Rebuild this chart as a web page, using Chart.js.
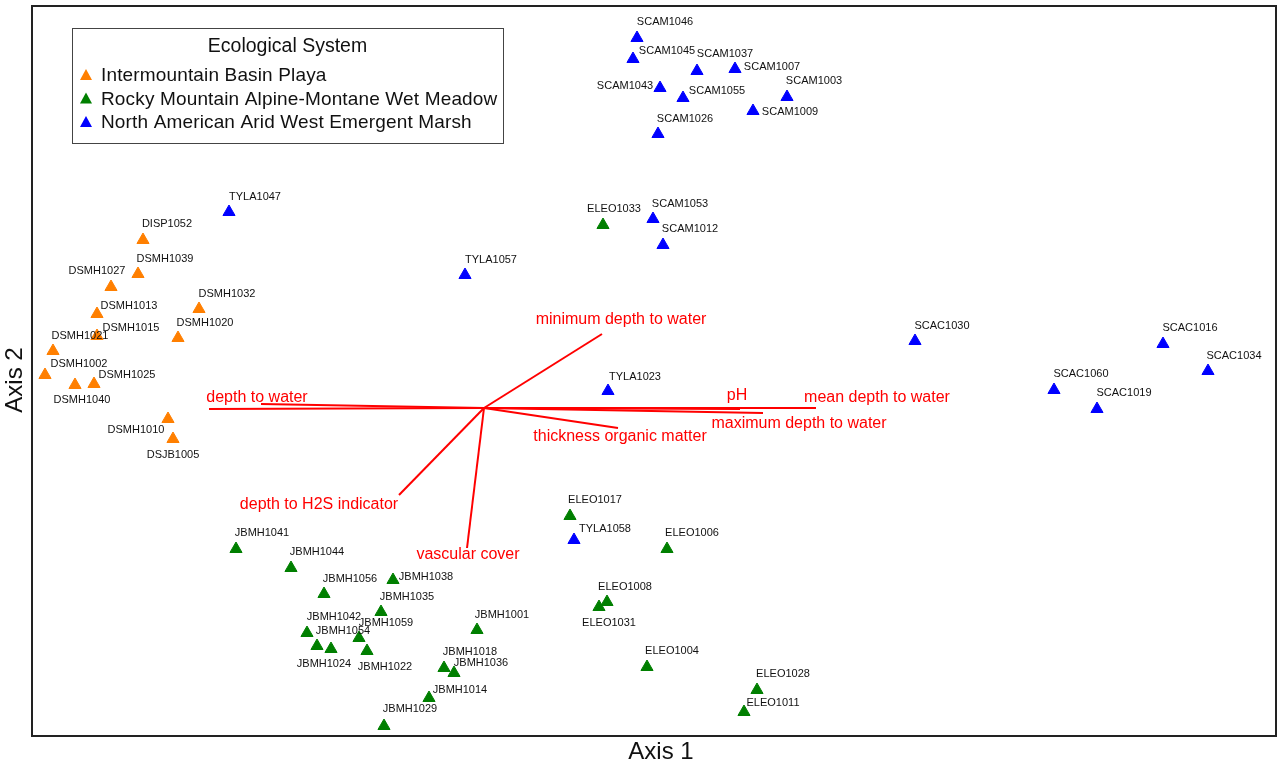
<!DOCTYPE html>
<html>
<head>
<meta charset="utf-8">
<script src="https://cdn.jsdelivr.net/npm/chart.js@4.4.1/dist/chart.umd.min.js"></script>
<style>
  body { margin: 0; background: #fff; }
  canvas { display: block; }
</style>
</head>
<body>
<canvas id="ordChart" width="1278" height="765"></canvas>
<script>
// site scores (Axis 1, Axis 2) per ecological system
const playaNames = ['DISP1052','DSMH1039','DSMH1027','DSMH1013','DSMH1015','DSMH1021','DSMH1002','DSMH1040','DSMH1025','DSMH1032','DSMH1020','DSMH1010','DSJB1005'];
const playaX = [-3.41,-3.46,-3.73,-3.87,-3.87,-4.31,-4.39,-4.09,-3.90,-2.85,-3.06,-3.16,-3.11];
const playaY = [1.68,1.34,1.21,0.94,0.72,0.57,0.33,0.23,0.24,0.99,0.70,-0.11,-0.31];

const meadowNames = ['ELEO1033','ELEO1017','ELEO1006','ELEO1008','ELEO1031','ELEO1004','ELEO1028','ELEO1011','JBMH1041','JBMH1044','JBMH1056','JBMH1038','JBMH1035','JBMH1042','JBMH1054','JBMH1059','JBMH1024','JBMH1022','JBMH1001','JBMH1018','JBMH1036','JBMH1014','JBMH1029'];
const meadowX = [1.19,0.86,1.83,1.23,1.15,1.63,2.73,2.60,-2.48,-1.93,-1.60,-0.91,-1.03,-1.77,-1.67,-1.25,-1.53,-1.17,-0.07,-0.40,-0.30,-0.55,-1.00];
const meadowY = [1.83,-1.08,-1.41,-1.94,-1.99,-2.59,-2.82,-3.04,-1.41,-1.60,-1.86,-1.72,-2.04,-2.25,-2.38,-2.30,-2.41,-2.43,-2.22,-2.60,-2.65,-2.90,-3.18];

const marshNames = ['TYLA1047','TYLA1057','TYLA1023','TYLA1058','SCAM1046','SCAM1045','SCAM1037','SCAM1007','SCAM1043','SCAM1055','SCAM1003','SCAM1009','SCAM1026','SCAM1053','SCAM1012','SCAC1030','SCAC1016','SCAC1034','SCAC1060','SCAC1019'];
const marshX = [-2.55,-0.19,1.24,0.90,1.53,1.49,2.13,2.51,1.76,1.99,3.03,2.69,1.74,1.69,1.79,4.31,6.79,7.24,5.70,6.13];
const marshY = [1.96,1.33,0.17,-1.32,3.70,3.49,3.37,3.39,3.20,3.10,3.11,2.97,2.74,1.89,1.63,0.67,0.64,0.37,0.18,-0.01];

// environmental vectors (arrow tips, origin at 0,0)
const vecNames = ['depth to water','','minimum depth to water','pH','mean depth to water','maximum depth to water','thickness organic matter','depth to H2S indicator','vascular cover'];
const vecX = [-2.75,-2.23,1.18,2.56,3.32,2.79,1.34,-0.85,-0.17];
const vecY = [-0.01,0.04,0.74,-0.01,0.00,-0.05,-0.20,-0.87,-1.40];

// label placement (pixel offsets from the point)
const playaOff = [[24,-16],[27,-15],[-14,-16],[32,-8],[34,-8],[27,-15],[34,-11],[7,15],[33,-9],[28,-15],[27,-15],[-32,11],[0,16]];
const meadowOff = [[11,-16],[25,-16],[25,-16],[18,-15],[10,16],[25,-16],[26,-16],[29,-9],[26,-16],[26,-16],[26,-15],[33,-3],[26,-15],[27,-16],[26,-15],[27,-15],[-7,15],[18,16],[25,-15],[26,-16],[27,-10],[31,-8],[26,-17]];
const marshOff = [[26,-15],[26,-15],[27,-14],[31,-11],[28,-16],[34,-8],[28,-17],[37,-2],[-35,-2],[34,-7],[27,-16],[37,1],[27,-15],[27,-15],[27,-16],[27,-15],[27,-16],[26,-15],[27,-16],[27,-16]];
const vecOff = [[48,-11],[0,0],[19,-14],[-3,-13],[61,-10],[36,11],[2,9],[-80,10],[1,7]];

function pts(xs, ys) {
  return xs.map((x, i) => ({ x: x, y: ys[i] }));
}

const groups = [
  { label: 'Intermountain Basin Playa', color: '#FF7F00', names: playaNames, xs: playaX, ys: playaY, off: playaOff },
  { label: 'Rocky Mountain Alpine-Montane Wet Meadow', color: '#007F00', names: meadowNames, xs: meadowX, ys: meadowY, off: meadowOff },
  { label: 'North American Arid West Emergent Marsh', color: '#0000FF', names: marshNames, xs: marshX, ys: marshY, off: marshOff }
];

const datasets = [];
vecX.forEach((vx, i) => {
  datasets.push({
    label: 'vec' + i,
    data: [{ x: 0, y: 0 }, { x: vx, y: vecY[i] }],
    showLine: true,
    borderColor: '#FF0000',
    borderWidth: 2,
    pointRadius: 0
  });
});
groups.forEach(g => {
  datasets.push({
    label: g.label,
    data: pts(g.xs, g.ys),
    pointStyle: 'triangle',
    pointRadius: 7,
    pointBackgroundColor: g.color,
    pointBorderColor: g.color,
    pointBorderWidth: 1,
    showLine: false
  });
});

const overlay = {
  id: 'overlay',
  afterDatasetsDraw(chart) {
    const ctx = chart.ctx;
    const xs = chart.scales.x, ys = chart.scales.y;
    const a = chart.chartArea;
    ctx.save();

    // site labels
    ctx.font = '11px "Liberation Sans", Arial, sans-serif';
    ctx.fillStyle = '#111';
    ctx.textAlign = 'center';
    ctx.textBaseline = 'middle';
    groups.forEach(g => {
      g.names.forEach((n, i) => {
        const px = xs.getPixelForValue(g.xs[i]) + g.off[i][0];
        const py = ys.getPixelForValue(g.ys[i]) + g.off[i][1];
        ctx.fillText(n, px, py);
      });
    });

    // vector labels
    ctx.font = '16px "Liberation Sans", Arial, sans-serif';
    ctx.fillStyle = '#FF0000';
    vecNames.forEach((n, i) => {
      if (!n) return;
      const px = xs.getPixelForValue(vecX[i]) + vecOff[i][0];
      const py = ys.getPixelForValue(vecY[i]) + vecOff[i][1];
      ctx.fillText(n, px, py);
    });

    // legend box
    const lx = 72, ly = 28, lw = 431, lh = 115;
    ctx.fillStyle = '#fff';
    ctx.fillRect(lx, ly, lw, lh);
    ctx.strokeStyle = '#444';
    ctx.lineWidth = 1;
    ctx.strokeRect(lx + 0.5, ly + 0.5, lw, lh);
    ctx.fillStyle = '#111';
    ctx.font = '19.5px "Liberation Sans", Arial, sans-serif';
    ctx.fillText('Ecological System', lx + lw / 2, 47);
    ctx.textAlign = 'left';
    ctx.font = '19px "Liberation Sans", Arial, sans-serif';
    ctx.letterSpacing = '0.15px';
    groups.forEach((g, i) => {
      const ty = 75 + i * 23.5;
      ctx.fillStyle = g.color;
      ctx.beginPath();
      ctx.moveTo(86, ty - 6);
      ctx.lineTo(92, ty + 5);
      ctx.lineTo(80, ty + 5);
      ctx.closePath();
      ctx.fill();
      ctx.fillStyle = '#111';
      ctx.fillText(g.label, 101, ty + 1);
    });
    ctx.letterSpacing = '0px';

    // plot frame
    ctx.strokeStyle = '#222';
    ctx.lineWidth = 2;
    ctx.strokeRect(a.left, a.top, a.right - a.left, a.bottom - a.top);

    // axis titles
    ctx.fillStyle = '#111';
    ctx.font = '24px "Liberation Sans", Arial, sans-serif';
    ctx.textAlign = 'center';
    ctx.fillText('Axis 1', 661, 752);
    ctx.translate(15, 380);
    ctx.rotate(-Math.PI / 2);
    ctx.fillText('Axis 2', 0, 0);
    ctx.restore();
  }
};

new Chart(document.getElementById('ordChart').getContext('2d'), {
  type: 'scatter',
  data: { datasets: datasets },
  options: {
    responsive: false,
    animation: false,
    layout: { autoPadding: false, padding: { left: 32, top: 6, right: 2, bottom: 29 } },
    scales: {
      x: { display: false, min: -4.52, max: 7.92 },
      y: { display: false, min: -3.28, max: 4.02 }
    },
    plugins: {
      legend: { display: false },
      tooltip: { enabled: false }
    }
  },
  plugins: [overlay]
});
</script>
</body>
</html>
